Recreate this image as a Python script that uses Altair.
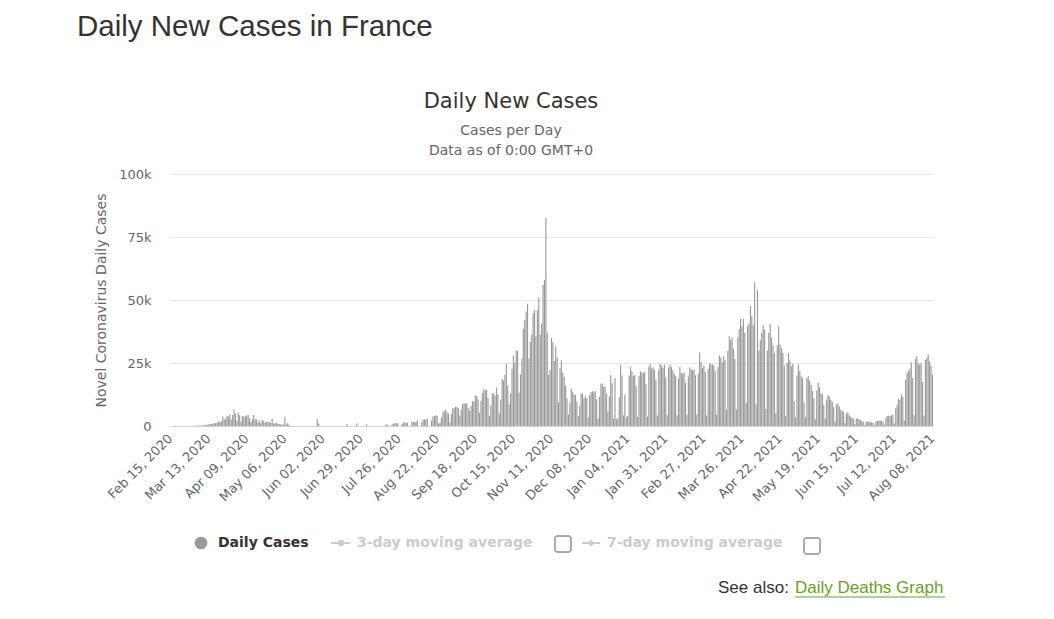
import altair as alt
import pandas as pd

start_date = "2020-02-15"

# daily new cases, one row per week (Sat..Fri)
w = [
    [0, 0, 0, 0, 0, 0, 0],
    [0, 0, 0, 2, 0, 4, 20],
    [43, 30, 61, 21, 73, 138, 190],
    [193, 93, 410, 286, 372, 497, 595],
    [785, 838, 924, 1210, 1097, 1404, 1861],
    [1617, 1847, 3838, 2446, 2931, 3922, 3809],
    [4611, 2599, 4376, 6500, 4861, 2116, 5233],
    [4267, 1873, 3912, 3777, 3881, 4286, 4342],
    [3114, 1613, 2673, 4400, 2633, 2641, 1400],
    [2200, 1100, 2500, 1900, 1400, 1600, 1700],
    [1600, 1200, 3000, 1100, 1000, 1300, 900],
    [800, 600, 700, 500, 3700, 600, 1100],
    [500, 0, 0, 0, 0, 0, 0],
    [0, 0, 0, 0, 0, 0, 0],
    [0, 0, 0, 0, 0, 0, 2700],
    [1000, 0, 0, 0, 0, 0, 0],
    [0, 0, 0, 0, 0, 0, 0],
    [0, 0, 0, 0, 0, 0, 700],
    [0, 0, 0, 0, 0, 0, 1000],
    [0, 0, 0, 0, 0, 0, 700],
    [0, 0, 0, 0, 0, 0, 0],
    [0, 0, 0, 0, 0, 0, 600],
    [500, 0, 0, 600, 1000, 1100, 1100],
    [1100, 0, 0, 700, 1400, 1400, 1300],
    [1300, 0, 0, 1700, 1700, 1600, 1600],
    [2300, 0, 0, 1400, 2500, 2600, 2800],
    [2900, 0, 0, 2200, 3800, 4000, 4300],
    [4000, 1000, 1400, 3300, 5400, 6100, 6400],
    [5500, 4900, 1500, 4900, 7000, 7100, 7700],
    [7500, 7100, 4200, 6500, 8600, 9000, 8800],
    [9000, 7200, 6100, 7900, 9800, 9800, 12000],
    [12000, 10600, 5300, 10000, 13100, 14600, 14200],
    [14400, 11100, 4100, 8100, 13000, 13000, 12100],
    [15300, 12600, 5100, 10500, 18700, 18100, 20300],
    [24700, 16100, 8500, 12900, 22600, 28000, 25100],
    [30000, 29800, 13200, 20500, 26700, 38600, 42000],
    [45400, 48500, 26800, 33400, 36400, 44700, 46000],
    [35600, 46000, 51000, 36300, 40600, 56000, 58000],
    [82500, 37000, 20200, 22200, 35000, 33200, 25800],
    [31600, 27200, 9400, 22900, 26000, 21200, 19400],
    [16000, 11000, 4500, 9200, 14800, 13500, 12500],
    [12400, 9800, 4000, 8100, 13000, 12700, 11000],
    [12000, 11000, 3400, 12200, 13500, 13800, 13400],
    [13900, 10600, 3000, 11500, 16800, 17000, 15700],
    [15700, 12900, 5900, 11800, 20200, 17000, 3000],
    [19000, 2700, 3100, 11400, 24300, 20000, 4200],
    [12500, 3500, 4000, 20000, 23400, 21700, 19800],
    [20200, 15900, 3600, 19700, 21700, 21200, 21000],
    [21400, 16600, 3700, 23600, 24600, 22800, 23300],
    [22300, 18300, 4200, 22100, 24600, 24000, 23000],
    [24400, 19300, 4300, 23300, 24300, 23400, 22100],
    [20600, 19700, 4300, 18900, 23400, 21100, 20700],
    [21200, 17200, 4400, 19600, 23300, 22600, 22000],
    [22400, 20100, 4600, 20700, 29200, 25400, 23000],
    [23900, 21500, 4200, 22700, 24700, 24500, 24500],
    [23900, 21800, 4600, 23300, 28000, 27200, 25300],
    [27700, 26300, 6400, 29900, 35600, 34100, 35100],
    [30600, 26600, 6500, 35000, 38500, 42500, 39600],
    [42600, 37000, 9100, 39600, 40600, 47600, 43600],
    [40000, 57000, 8500, 54000, 30000, 34000, 37000],
    [40000, 38300, 6800, 30000, 37000, 40500, 35000],
    [32000, 29000, 5000, 32000, 39600, 32300, 31000],
    [29000, 24000, 4000, 25000, 29000, 26000, 23700],
    [24700, 9900, 3300, 20000, 24300, 21700, 19700],
    [19000, 9300, 3500, 19000, 19700, 18000, 16400],
    [13900, 11000, 2700, 14000, 17300, 15400, 13000],
    [12800, 8500, 2900, 10500, 12400, 11600, 10400],
    [9600, 7500, 1800, 8500, 9000, 7700, 6400],
    [6100, 5600, 1200, 5000, 5500, 4400, 3700],
    [3300, 3000, 800, 3000, 2900, 2600, 2400],
    [2000, 1700, 400, 1800, 1700, 1800, 1600],
    [1500, 1200, 400, 1800, 2100, 2100, 2200],
    [2000, 1600, 500, 3200, 4000, 4100, 4000],
    [4300, 4500, 1000, 7000, 8400, 10900, 10400],
    [12500, 11500, 2200, 18400, 21000, 21900, 22800],
    [25300, 19000, 4300, 26600, 27700, 25000, 24300],
    [24900, 17500, 4200, 26300, 27000, 28300, 25700],
    [24000, 20300],
]
cases = [v for week in w for v in week]
dates = list(pd.date_range(start_date, periods=len(cases), freq="D").strftime("%b %d, %Y"))

tick_labels = [
    "Feb 15, 2020", "Mar 13, 2020", "Apr 09, 2020", "May 06, 2020", "Jun 02, 2020",
    "Jun 29, 2020", "Jul 26, 2020", "Aug 22, 2020", "Sep 18, 2020", "Oct 15, 2020",
    "Nov 11, 2020", "Dec 08, 2020", "Jan 04, 2021", "Jan 31, 2021", "Feb 27, 2021",
    "Mar 26, 2021", "Apr 22, 2021", "May 19, 2021", "Jun 15, 2021", "Jul 12, 2021",
    "Aug 08, 2021",
]
y_ticks = [0, 25000, 50000, 75000, 100000]

df = pd.DataFrame({"date": dates, "cases": cases})

FONT = "DejaVu Sans"
HFONT = "Liberation Sans"

bars = alt.Chart(df).mark_bar(color="#999999").encode(
    x=alt.X(
        "date:O", sort=None, title=None,
        scale=alt.Scale(paddingInner=0.2, paddingOuter=0),
        axis=alt.Axis(
            values=tick_labels, labelAngle=-45, labelAlign="right", labelBaseline="middle",
            ticks=False, domainColor="#ccd6eb", domainWidth=1, labelColor="#666666",
            labelFontSize=13, labelFont=FONT, labelOverlap=False, labelPadding=10, grid=False,
        ),
    ),
    y=alt.Y(
        "cases:Q", scale=alt.Scale(domain=[0, 100000], nice=False),
        axis=alt.Axis(
            values=y_ticks, labelExpr="datum.value == 0 ? '0' : (datum.value / 1000) + 'k'",
            title="Novel Coronavirus Daily Cases", titleFont=FONT, titleFontSize=14,
            titleFontWeight="normal", titleColor="#666666", titlePadding=10,
            domain=False, ticks=False, gridColor="#e6e6e6", labelColor="#666666",
            labelFontSize=13, labelFont=FONT, labelPadding=19,
        ),
    ),
)

one = pd.DataFrame({"t": [""]})


def txt(s, x, y, size, color, weight="normal", align="left", font=FONT):
    return alt.Chart(pd.DataFrame({"t": [s]})).mark_text(
        align=align, baseline="middle", fontSize=size, color=color,
        fontWeight=weight, font=font,
    ).encode(x=alt.value(x), y=alt.value(y), text="t:N")


def rule(x1, x2, y, color, width=1):
    return alt.Chart(one).mark_rule(color=color, strokeWidth=width).encode(
        x=alt.value(x1), x2=alt.value(x2), y=alt.value(y)
    )


def box(x1, x2, y1, y2):
    return alt.Chart(one).mark_rect(
        fill="white", stroke="#555555", strokeWidth=1, cornerRadius=2
    ).encode(x=alt.value(x1), x2=alt.value(x2), y=alt.value(y1), y2=alt.value(y2))


def dot(x, y, color, shape="circle", size=150):
    return alt.Chart(one).mark_point(
        filled=True, color=color, shape=shape, size=size, opacity=1
    ).encode(x=alt.value(x), y=alt.value(y))


layers = [
    bars,
    txt("Daily New Cases in France", -93, -147, 29.5, "#333333", font=HFONT),
    txt("Daily New Cases", 341, -72, 21, "#333333", align="center"),
    txt("Cases per Day", 341, -43, 14, "#666666", align="center"),
    txt("Data as of 0:00 GMT+0", 341, -23, 14, "#666666", align="center"),
    dot(31, 369, "#999999", size=160),
    txt("Daily Cases", 48, 369, 14, "#333333", weight="bold"),
    rule(161, 180, 369, "#cccccc", 2),
    dot(171, 369, "#cccccc", size=40),
    txt("3-day moving average", 187, 369, 14, "#cccccc", weight="bold"),
    box(385, 401, 362, 378),
    rule(412, 430, 369, "#cccccc", 2),
    dot(421, 369, "#cccccc", shape="diamond", size=50),
    txt("7-day moving average", 437, 369, 14, "#cccccc", weight="bold"),
    box(634, 650, 364, 380),
    txt("See also:", 548, 414, 17, "#333333", font=HFONT),
    txt("Daily Deaths Graph", 625, 414, 17, "#6a9f2a", font=HFONT),
    rule(625, 775, 423, "#6a9f2a", 1),
]

chart = alt.layer(*layers).properties(
    width=763, height=252,
    autosize=alt.AutoSizeParams(type="none"),
    padding={"left": 170, "top": 174, "right": 121, "bottom": 193},
    background="white",
).configure_view(strokeWidth=0)

chart.save("out.html", embed_options={"renderer": "svg", "actions": False})
